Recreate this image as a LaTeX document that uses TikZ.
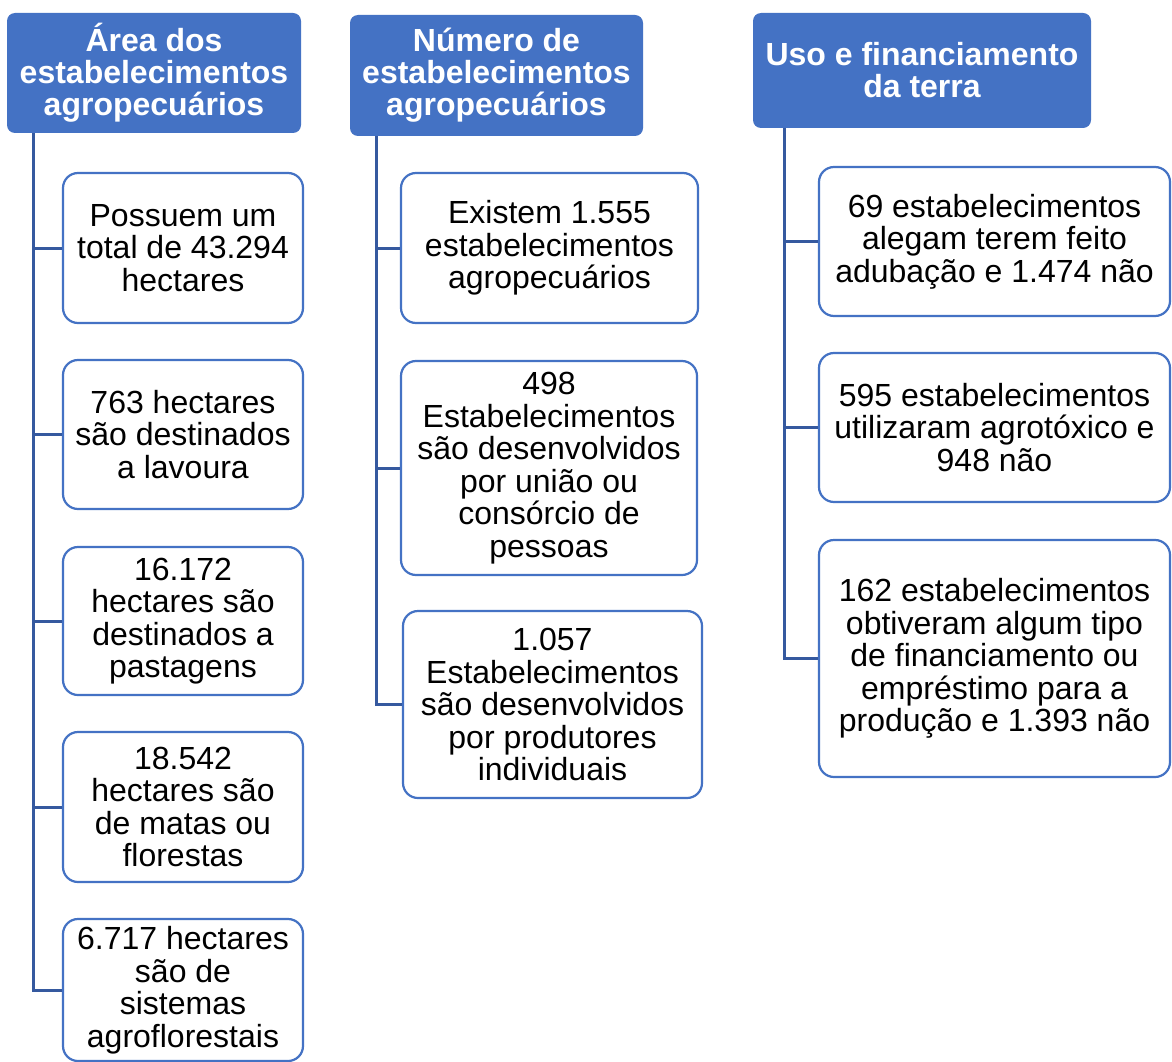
\documentclass[tikz,border=0pt]{standalone}
\usepackage{fontspec}
\setmainfont{Liberation Sans}
\definecolor{hdrblue}{HTML}{4472C4}
\definecolor{boxblue}{HTML}{4472C4}
\definecolor{connblue}{HTML}{35599F}
\begin{document}
\begin{tikzpicture}[x=1pt,y=-1pt,
  hdr/.style={draw=none, fill=hdrblue, rounded corners=8pt, inner sep=0pt, align=center,
     text=white, font=\fontsize{32}{32}\selectfont\bfseries},
  leaf/.style={draw=boxblue, line width=2.2pt, fill=white, rounded corners=15pt, inner sep=0pt, align=center,
     text=black, font=\fontsize{32}{32.5}\selectfont},
  conn/.style={draw=connblue, line width=3pt}]
\useasboundingbox (0,0) rectangle (1172,1062);
\fill[white] (0,0) rectangle (1172,1062);

% headers
\node[hdr, minimum width=294pt, minimum height=120pt] (h1) at (154,73) {Área dos\\estabelecimentos\\agropecuários};
\node[hdr, minimum width=293pt, minimum height=121pt] (h2) at (496.5,75.5) {Número de\\estabelecimentos\\agropecuários};
\node[hdr, minimum width=338pt, minimum height=115pt] (h3) at (922,70.5) {Uso e financiamento\\da terra};

% column 1
\node[leaf, minimum width=240pt, minimum height=150pt] (a1) at (183,248) {Possuem um\\total de 43.294\\hectares};
\node[leaf, minimum width=240pt, minimum height=149pt] (a2) at (183,434.5) {763 hectares\\são destinados\\a lavoura};
\node[leaf, minimum width=240pt, minimum height=148pt] (a3) at (183,621) {16.172\\hectares são\\destinados a\\pastagens};
\node[leaf, minimum width=240pt, minimum height=150pt] (a4) at (183,807) {18.542\\hectares são\\de matas ou\\florestas};
\node[leaf, minimum width=240pt, minimum height=142pt] (a5) at (183,990) {6.717 hectares\\são de\\sistemas\\agroflorestais};

% column 2
\node[leaf, minimum width=297pt, minimum height=150pt] (b1) at (549.5,248) {Existem 1.555\\estabelecimentos\\agropecuários};
\node[leaf, minimum width=296pt, minimum height=214pt] (b2) at (549,468) {498\\Estabelecimentos\\são desenvolvidos\\por união ou\\consórcio de\\pessoas};
\node[leaf, minimum width=299pt, minimum height=187pt] (b3) at (552.5,704.5) {1.057\\Estabelecimentos\\são desenvolvidos\\por produtores\\individuais};

% column 3
\node[leaf, minimum width=351pt, minimum height=149pt] (c1) at (994.5,241.5) {69 estabelecimentos\\alegam terem feito\\adubação e 1.474 não};
\node[leaf, minimum width=351pt, minimum height=149pt] (c2) at (994.5,427.5) {595 estabelecimentos\\utilizaram agrotóxico e\\948 não};
\node[leaf, minimum width=351pt, minimum height=237pt] (c3) at (994.5,658.5) {162 estabelecimentos\\obtiveram algum tipo\\de financiamento ou\\empréstimo para a\\produção e 1.393 não};

% connectors
\foreach \c in {a1,a2,a3,a4,a5}
  \draw[conn] ([xshift=27pt]h1.south west) |- (\c.west);
\foreach \c in {b1,b2,b3}
  \draw[conn] ([xshift=27pt]h2.south west) |- (\c.west);
\foreach \c in {c1,c2,c3}
  \draw[conn] ([xshift=32pt]h3.south west) |- (\c.west);
\end{tikzpicture}
\end{document}
